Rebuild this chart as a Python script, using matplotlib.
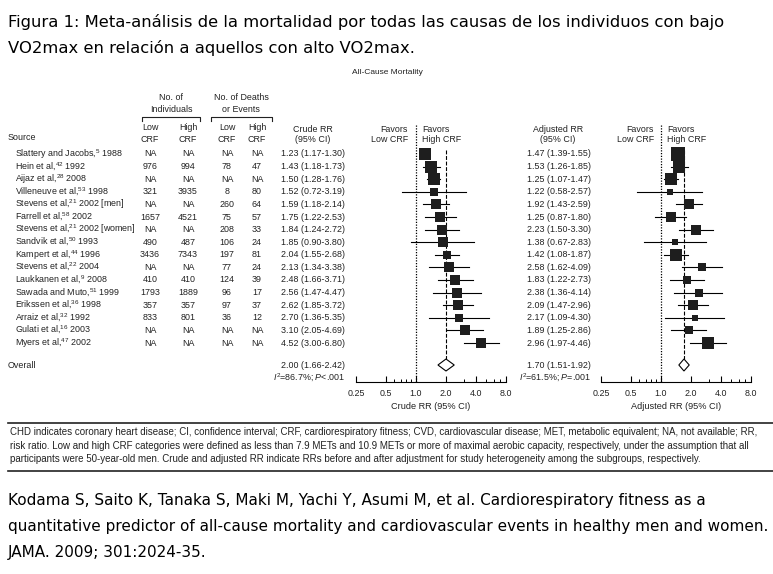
import matplotlib.pyplot as plt
from matplotlib.ticker import FixedLocator, NullFormatter

plt.rcParams['font.family'] = ['Liberation Sans', 'DejaVu Sans']
plt.rcParams['mathtext.fontset'] = 'custom'
plt.rcParams['mathtext.rm'] = 'Liberation Sans'
plt.rcParams['mathtext.it'] = 'Liberation Sans:italic'

# study data
studies = ["Slattery and Jacobs", "Hein et al", "Aijaz et al", "Villeneuve et al",
           "Stevens et al", "Farrell et al", "Stevens et al", "Sandvik et al",
           "Kampert et al", "Stevens et al", "Laukkanen et al", "Sawada and Muto",
           "Erikssen et al", "Arraiz et al", "Gulati et al", "Myers et al"]
refs = ["5", "42", "28", "53", "21", "58", "21", "50", "44", "22", "9", "51", "36", "32", "16", "47"]
years = ["1988", "1992", "2008", "1998", "2002 [men]", "2002", "2002 [women]", "1993",
         "1996", "2004", "2008", "1999", "1998", "1992", "2003", "2002"]
low_n = ["NA", "976", "NA", "321", "NA", "1657", "NA", "490", "3436", "NA", "410", "1793", "357", "833", "NA", "NA"]
high_n = ["NA", "994", "NA", "3935", "NA", "4521", "NA", "487", "7343", "NA", "410", "1889", "357", "801", "NA", "NA"]
low_d = ["NA", "78", "NA", "8", "260", "75", "208", "106", "197", "77", "124", "96", "97", "36", "NA", "NA"]
high_d = ["NA", "47", "NA", "80", "64", "57", "33", "24", "81", "24", "39", "17", "37", "12", "NA", "NA"]

crude = [1.23, 1.43, 1.50, 1.52, 1.59, 1.75, 1.84, 1.85, 2.04, 2.13, 2.48, 2.56, 2.62, 2.70, 3.10, 4.52]
crude_lo = [1.17, 1.18, 1.28, 0.72, 1.18, 1.22, 1.24, 0.90, 1.55, 1.34, 1.66, 1.47, 1.85, 1.36, 2.05, 3.00]
crude_hi = [1.30, 1.73, 1.76, 3.19, 2.14, 2.53, 2.72, 3.80, 2.68, 3.38, 3.71, 4.47, 3.72, 5.35, 4.69, 6.80]
crude_wt = [9.1, 9.1, 9.1, 4.4, 5.8, 5.8, 5.8, 5.8, 4.4, 5.8, 5.8, 5.8, 5.8, 4.4, 5.8, 7.3]
crude_overall = [2.00, 1.66, 2.42]
crude_het = r"$I^2$=86.7%; $P$<.001"

adj = [1.47, 1.53, 1.25, 1.22, 1.92, 1.25, 2.23, 1.38, 1.42, 2.58, 1.83, 2.38, 2.09, 2.17, 1.89, 2.96]
adj_lo = [1.39, 1.26, 1.07, 0.58, 1.43, 0.87, 1.50, 0.67, 1.08, 1.62, 1.22, 1.36, 1.47, 1.09, 1.25, 1.97]
adj_hi = [1.55, 1.85, 1.47, 2.57, 2.59, 1.80, 3.30, 2.83, 1.87, 4.09, 2.73, 4.14, 2.96, 4.30, 2.86, 4.46]
adj_wt = [12.8, 8.9, 8.9, 2.2, 7.2, 5.7, 5.7, 2.2, 8.9, 4.4, 4.4, 4.4, 7.2, 3.2, 5.0, 8.9]
adj_overall = [1.70, 1.51, 1.92]
adj_het = r"$I^2$=61.5%; $P$=.001"

ticks = [0.25, 0.5, 1.0, 2.0, 4.0, 8.0]
tick_labels = ["0.25", "0.5", "1.0", "2.0", "4.0", "8.0"]
minor_ticks = [0.6, 0.7, 0.8, 0.9, 3.0, 5.0, 6.0, 7.0]

W, H = 773, 574
fig = plt.figure(figsize=(W / 100, H / 100), dpi=100)
bg = fig.add_axes([0, 0, 1, 1])
bg.set_xlim(0, W)
bg.set_ylim(H, 0)
bg.axis('off')

TXT = '#222222'
fs = 6.4


def row_y(i):
    return 154 + 12.6 * i


overall_y = 365
het_y = 378

# title and citation
title = ["Figura 1: Meta-análisis de la mortalidad por todas las causas de los individuos con bajo",
         "VO2max en relación a aquellos con alto VO2max."]
for k, line in enumerate(title):
    bg.text(8, 22 + 26 * k, line, fontsize=11.8, family='DejaVu Sans', va='center', color='black')
cite = ["Kodama S, Saito K, Tanaka S, Maki M, Yachi Y, Asumi M, et al. Cardiorespiratory fitness as a",
        "quantitative predictor of all-cause mortality and cardiovascular events in healthy men and women.",
        "JAMA. 2009; 301:2024-35."]
for k, line in enumerate(cite):
    bg.text(8, 500 + 26 * k, line, fontsize=11, family='DejaVu Sans', va='center', color='black')

bg.text(387, 72, "All-Cause Mortality", fontsize=6, ha='center', va='center', color=TXT)

# column headers
bg.text(171, 98, "No. of", fontsize=fs, ha='center', va='center', color=TXT)
bg.text(171, 110, "Individuals", fontsize=fs, ha='center', va='center', color=TXT)
bg.text(241, 98, "No. of Deaths", fontsize=fs, ha='center', va='center', color=TXT)
bg.text(241, 110, "or Events", fontsize=fs, ha='center', va='center', color=TXT)
for x0, x1 in [(142, 200), (211, 272)]:
    bg.plot([x0, x0, x1, x1], [121, 117, 117, 121], color=TXT, lw=0.8)
cols = [150, 188, 227, 257]
for x, top in zip(cols, ["Low", "High", "Low", "High"]):
    bg.text(x, 128, top, fontsize=fs, ha='center', va='center', color=TXT)
    bg.text(x, 139, "CRF", fontsize=fs, ha='center', va='center', color=TXT)
bg.text(8, 137, "Source", fontsize=fs, va='center', color=TXT)
bg.text(313, 129, "Crude RR", fontsize=fs, ha='center', va='center', color=TXT)
bg.text(313, 139, "(95% CI)", fontsize=fs, ha='center', va='center', color=TXT)
bg.text(558, 129, "Adjusted RR", fontsize=fs, ha='center', va='center', color=TXT)
bg.text(558, 139, "(95% CI)", fontsize=fs, ha='center', va='center', color=TXT)
for xr, xl in [(408, 422), (654, 667)]:
    bg.text(xr, 129, "Favors", fontsize=fs, ha='right', va='center', color=TXT)
    bg.text(xr, 139, "Low CRF", fontsize=fs, ha='right', va='center', color=TXT)
    bg.text(xl, 129, "Favors", fontsize=fs, ha='left', va='center', color=TXT)
    bg.text(xl, 139, "High CRF", fontsize=fs, ha='left', va='center', color=TXT)

# table rows
for i in range(len(studies)):
    y = row_y(i)
    bg.text(15, y, f"{studies[i]},$^{{{refs[i]}}}$ {years[i]}", fontsize=fs, va='center', color=TXT)
    for x, v in zip(cols, [low_n[i], high_n[i], low_d[i], high_d[i]]):
        bg.text(x, y, v, fontsize=fs, ha='center', va='center', color=TXT)
    bg.text(345, y, f"{crude[i]:.2f} ({crude_lo[i]:.2f}-{crude_hi[i]:.2f})",
            fontsize=fs, ha='right', va='center', color=TXT)
    bg.text(591, y, f"{adj[i]:.2f} ({adj_lo[i]:.2f}-{adj_hi[i]:.2f})",
            fontsize=fs, ha='right', va='center', color=TXT)

bg.text(8, overall_y, "Overall", fontsize=fs, va='center', color=TXT)
c, l, h = crude_overall
bg.text(345, overall_y, f"{c:.2f} ({l:.2f}-{h:.2f})", fontsize=fs, ha='right', va='center', color=TXT)
bg.text(345, het_y, crude_het, fontsize=fs, ha='right', va='center', color=TXT)
c, l, h = adj_overall
bg.text(591, overall_y, f"{c:.2f} ({l:.2f}-{h:.2f})", fontsize=fs, ha='right', va='center', color=TXT)
bg.text(591, het_y, adj_het, fontsize=fs, ha='right', va='center', color=TXT)


def forest(left, est, lo, hi, wt, overall, xlabel):
    ax = fig.add_axes([left / W, 1 - 382 / H, 150 / W, (382 - 125) / H])
    ax.patch.set_alpha(0)
    ax.set_xscale('log')
    ax.set_xlim(0.25, 8)
    ax.set_ylim(382, 125)
    for s in ['top', 'right', 'left']:
        ax.spines[s].set_visible(False)
    ax.spines['bottom'].set_linewidth(0.8)
    ax.set_yticks([])
    ax.xaxis.set_major_locator(FixedLocator(ticks))
    ax.set_xticklabels(tick_labels)
    ax.xaxis.set_minor_locator(FixedLocator(minor_ticks))
    ax.xaxis.set_minor_formatter(NullFormatter())
    ax.tick_params(axis='x', which='major', direction='in', length=4, width=0.8,
                   labelsize=6.4, pad=5, labelcolor=TXT)
    ax.tick_params(axis='x', which='minor', direction='in', length=2.5, width=0.7)
    ax.set_xlabel(xlabel, fontsize=6.6, color=TXT, labelpad=3)

    ax.plot([1, 1], [125, 382], ls=(0, (1, 1.2)), color='black', lw=0.9, clip_on=False)
    ax.plot([overall[0]] * 2, [150, overall_y - 6], ls=(0, (3.5, 1.5)), color='black', lw=0.8)
    for i in range(len(est)):
        y = row_y(i)
        ax.plot([lo[i], hi[i]], [y, y], color='black', lw=0.8, clip_on=False)
        side = 3.8 * wt[i] ** 0.5 * 0.72
        ax.plot(est[i], y, marker='s', ms=side, color='#1e1e1e', mec='#1e1e1e', mew=0)
    c, l, h = overall
    ax.fill([l, c, h, c, l], [overall_y, overall_y - 6, overall_y, overall_y + 6, overall_y],
            facecolor='white', edgecolor='black', lw=0.8, zorder=3)
    return ax


forest(356, crude, crude_lo, crude_hi, crude_wt, crude_overall, "Crude RR (95% CI)")
forest(601, adj, adj_lo, adj_hi, adj_wt, adj_overall, "Adjusted RR (95% CI)")

# footnote block
bg.plot([8, 773], [423, 423], color='#222222', lw=1.2)
bg.plot([8, 773], [471, 471], color='#222222', lw=1.2)
notes = ["CHD indicates coronary heart disease; CI, confidence interval; CRF, cardiorespiratory fitness; CVD, cardiovascular disease; MET, metabolic equivalent; NA, not available; RR,",
         "risk ratio. Low and high CRF categories were defined as less than 7.9 METs and 10.9 METs or more of maximal aerobic capacity, respectively, under the assumption that all",
         "participants were 50-year-old men. Crude and adjusted RR indicate RRs before and after adjustment for study heterogeneity among the subgroups, respectively."]
for k, line in enumerate(notes):
    bg.text(10, 432 + 13.7 * k, line, fontsize=7.0, va='center', color=TXT)

fig.savefig("out.png", dpi=100)
